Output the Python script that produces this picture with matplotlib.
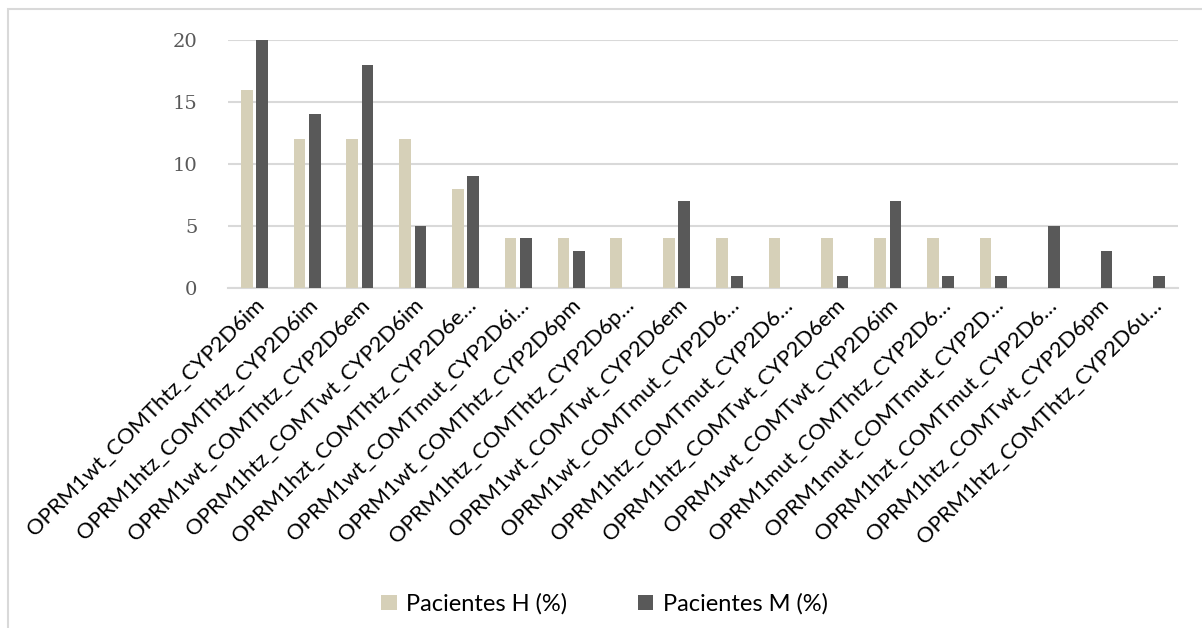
import matplotlib
matplotlib.use("Agg")
import matplotlib.pyplot as plt
from matplotlib.patches import Rectangle
import numpy as np

categories = [
    "OPRM1wt_COMThtz_CYP2D6im",
    "OPRM1htz_COMThtz_CYP2D6im",
    "OPRM1wt_COMThtz_CYP2D6em",
    "OPRM1htz_COMTwt_CYP2D6im",
    "OPRM1hzt_COMThtz_CYP2D6e…",
    "OPRM1wt_COMTmut_CYP2D6i…",
    "OPRM1wt_COMThtz_CYP2D6pm",
    "OPRM1htz_COMThtz_CYP2D6p…",
    "OPRM1wt_COMTwt_CYP2D6em",
    "OPRM1wt_COMTmut_CYP2D6…",
    "OPRM1htz_COMTmut_CYP2D6…",
    "OPRM1htz_COMTwt_CYP2D6em",
    "OPRM1wt_COMTwt_CYP2D6im",
    "OPRM1mut_COMThtz_CYP2D6…",
    "OPRM1mut_COMTmut_CYP2D…",
    "OPRM1hzt_COMTmut_CYP2D6…",
    "OPRM1htz_COMTwt_CYP2D6pm",
    "OPRM1htz_COMThtz_CYP2D6u…",
]
pacientes_h = [16, 12, 12, 12, 8, 4, 4, 4, 4, 4, 4, 4, 4, 4, 4, 0, 0, 0]
pacientes_m = [20, 14, 18, 5, 9, 4, 3, 0, 7, 1, 0, 1, 7, 1, 1, 5, 3, 1]
y_ticks = [0, 5, 10, 15, 20]

color_h = "#D6D0B8"
color_m = "#595959"
grid_color = "#D9D9D9"

W, H = 1202, 628
fig = plt.figure(figsize=(W / 100, H / 100), dpi=100)

# outer chart frame (runs past the right and bottom edges)
fig.patches.append(Rectangle((8 / W, -0.2), 1.2, 1.2 - 9 / H, transform=fig.transFigure,
                             fill=False, edgecolor="#D9D9D9", linewidth=1.5))

left, right, top, bottom = 228, 1178, 40, 288
ax = fig.add_axes([left / W, 1 - bottom / H, (right - left) / W, (bottom - top) / H])

x = np.arange(len(categories))
bw = 0.22
off = 0.145
ax.bar(x - off, pacientes_h, width=bw, color=color_h, label="Pacientes H (%)", zorder=3)
ax.bar(x + off, pacientes_m, width=bw, color=color_m, label="Pacientes M (%)", zorder=3)

ax.set_xlim(-0.5, len(categories) - 0.5)
ax.set_ylim(0, 20)
ax.set_yticks(y_ticks)
ax.set_yticklabels([str(v) for v in y_ticks], fontfamily="DejaVu Serif",
                   fontsize=14, color="#595959")
ax.yaxis.grid(True, color=grid_color, linewidth=1.5, zorder=0)
ax.set_axisbelow(True)
for s in ["top", "right", "left"]:
    ax.spines[s].set_visible(False)
ax.spines["bottom"].set_color(grid_color)
ax.spines["bottom"].set_linewidth(1.5)
ax.tick_params(axis="y", length=0, pad=22)
ax.tick_params(axis="x", length=0, pad=5)

ax.set_xticks(x)
ax.set_xticklabels(categories, rotation=45, ha="right", rotation_mode="anchor",
                   fontfamily="Lato", fontsize=15.8, color="black")

handles, labels = ax.get_legend_handles_labels()
fig.legend(handles, labels, loc="center", bbox_to_anchor=(0.503, 1 - 604 / H),
           ncol=2, frameon=False, prop={"family": "Lato", "size": 17},
           handlelength=0.65, handleheight=0.65, handletextpad=0.4, columnspacing=3.0)

fig.savefig("out.png", dpi=100)
